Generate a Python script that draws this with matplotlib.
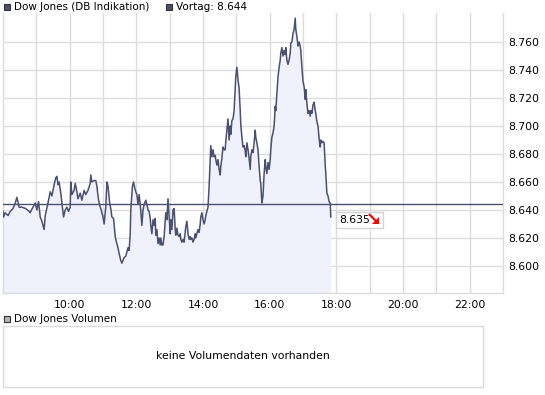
import matplotlib
matplotlib.use("Agg")
import matplotlib.pyplot as plt
from matplotlib.patches import Rectangle

# minutes after 08:00 and index level (DB Indikation)
minutes = [0, 1, 4, 9, 13, 18, 22, 25, 29, 34, 41, 47, 49, 50, 54, 58, 61, 64, 67, 70,
           74, 76, 81, 85, 88, 92, 95, 97, 99, 101, 104, 106, 109, 112, 115, 118, 121, 122, 124, 128,
           130, 133, 135, 139, 142, 146, 149, 153, 157, 158, 160, 164, 167, 169, 171, 173, 176, 180, 182, 185,
           187, 189, 192, 194, 196, 199, 202, 203, 207, 209, 212, 214, 218, 221, 225, 227, 229, 230, 233, 235,
           237, 239, 241, 243, 245, 247, 248, 250, 252, 254, 257, 259, 261, 263, 265, 266, 268, 270, 272, 274,
           275, 277, 279, 281, 283, 284, 286, 288, 290, 292, 293, 295, 297, 299, 301, 302, 304, 306, 308, 310,
           311, 313, 315, 317, 319, 320, 322, 324, 326, 328, 329, 331, 333, 335, 337, 338, 340, 342, 344, 346,
           347, 349, 351, 353, 355, 356, 358, 360, 362, 364, 365, 367, 369, 371, 373, 374, 376, 378, 380, 382,
           383, 385, 387, 389, 391, 392, 394, 396, 398, 400, 401, 403, 405, 407, 409, 410, 412, 414, 416, 418,
           419, 421, 423, 425, 427, 428, 430, 432, 434, 436, 437, 439, 441, 443, 445, 446, 448, 450, 452, 454,
           455, 457, 459, 461, 463, 464, 466, 468, 470, 472, 473, 475, 477, 479, 481, 482, 484, 486, 488, 490,
           491, 493, 495, 497, 499, 500, 502, 504, 506, 508, 509, 511, 513, 515, 517, 518, 520, 522, 524, 526,
           527, 529, 531, 533, 535, 536, 538, 540, 542, 544, 545, 547, 549, 551, 553, 554, 556, 558, 560, 562,
           563, 565, 567, 569, 571, 572, 574, 576, 578, 580, 581, 583, 585, 587, 589, 590]
level = [8639, 8635, 8638, 8636, 8639, 8641, 8645, 8649, 8642, 8642, 8641, 8639, 8638, 8639, 8642, 8645, 8640, 8646, 8635, 8632,
         8626, 8636, 8645, 8653, 8650, 8658, 8663, 8664, 8658, 8660, 8652, 8645, 8635, 8640, 8642, 8639, 8642, 8660, 8651, 8654,
         8659, 8653, 8648, 8652, 8647, 8654, 8651, 8654, 8659, 8665, 8660, 8661, 8661, 8657, 8650, 8645, 8641, 8635, 8630, 8642,
         8660, 8657, 8645, 8641, 8635, 8634, 8621, 8619, 8613, 8609, 8604, 8602, 8606, 8607, 8613, 8611, 8623, 8640, 8657, 8660,
         8656, 8653, 8651, 8644, 8651, 8644, 8639, 8629, 8640, 8644, 8647, 8644, 8640, 8639, 8634, 8629, 8623, 8633, 8629, 8634,
         8622, 8626, 8616, 8620, 8615, 8620, 8615, 8615, 8621, 8632, 8638, 8633, 8648, 8636, 8623, 8633, 8626, 8640, 8641, 8626,
         8622, 8627, 8622, 8621, 8623, 8619, 8617, 8619, 8617, 8624, 8628, 8632, 8623, 8619, 8621, 8619, 8620, 8617, 8619, 8623,
         8620, 8623, 8626, 8624, 8630, 8635, 8638, 8633, 8630, 8633, 8636, 8639, 8642, 8657, 8677, 8686, 8678, 8683, 8678, 8679,
         8676, 8672, 8676, 8669, 8665, 8671, 8677, 8685, 8683, 8683, 8689, 8697, 8705, 8690, 8700, 8694, 8704, 8705, 8711, 8727,
         8735, 8742, 8733, 8727, 8711, 8701, 8692, 8685, 8686, 8682, 8678, 8688, 8683, 8677, 8669, 8678, 8683, 8681, 8688, 8697,
         8692, 8688, 8683, 8671, 8661, 8659, 8645, 8650, 8666, 8676, 8671, 8666, 8674, 8669, 8676, 8683, 8692, 8695, 8700, 8714,
         8711, 8723, 8735, 8742, 8747, 8752, 8756, 8750, 8754, 8751, 8756, 8747, 8744, 8747, 8752, 8759, 8760, 8766, 8769, 8777,
         8769, 8764, 8757, 8760, 8757, 8754, 8742, 8732, 8728, 8719, 8726, 8716, 8709, 8711, 8707, 8711, 8709, 8715, 8717, 8711,
         8709, 8703, 8700, 8691, 8685, 8690, 8688, 8689, 8688, 8672, 8666, 8652, 8650, 8646, 8645, 8635]

prev_close = 8644
last_value = 8635
y_ticks = [8600, 8620, 8640, 8660, 8680, 8700, 8720, 8740, 8760]
x_tick_hours = [10, 12, 14, 16, 18, 20, 22]

line_col = '#4a5070'
fill_col = '#f1f1fc'
grid_col = '#dcdcdc'
plt.rcParams['font.family'] = ['DejaVu Sans']


def de_num(v):
    return f"{v:,.0f}".replace(',', '.')


W, H = 545, 395
fig = plt.figure(figsize=(W / 100, H / 100), dpi=100)
fig.patch.set_facecolor('white')


def fx(px):
    return px / W


def fy(py):
    return 1 - py / H


# main price panel
ax = fig.add_axes([fx(3), fy(293), fx(500), (293 - 13) / H])
t = [8 * 60 + m for m in minutes]
ax.fill_between(t, level, 8500, color=fill_col, lw=0, zorder=1)
ax.plot(t, level, color=line_col, lw=1.1, zorder=3)
ax.axhline(prev_close, color=line_col, lw=1.0, zorder=3)

ax.set_xlim(8 * 60, 23 * 60)
ax.set_ylim(8580.7, 8780.7)
ax.set_xticks([h * 60 for h in range(9, 23)])
ax.set_xticklabels([f"{h}:00" if h in x_tick_hours else '' for h in range(9, 23)])
ax.set_yticks(y_ticks)
ax.set_yticklabels([de_num(v) for v in y_ticks])
ax.yaxis.tick_right()
ax.tick_params(length=0, labelsize=7.8, colors='black', pad=4)
ax.tick_params(axis='x', pad=5)
ax.grid(True, color=grid_col, lw=1.0, zorder=0)
ax.set_axisbelow(True)
for side in ['left', 'right', 'bottom']:
    ax.spines[side].set_color(grid_col)
    ax.spines[side].set_linewidth(1.0)
ax.spines['top'].set_visible(False)

# last value box with red arrow
fig.patches.append(Rectangle((fx(336), fy(228)), fx(47), 16 / H, transform=fig.transFigure,
                             facecolor='white', edgecolor='#d4d4d4', lw=1.0, zorder=5))
fig.text(fx(339), fy(220), de_num(last_value), fontsize=7.8, va='center', ha='left', zorder=6)
fig.patches.append(plt.Polygon([[fx(369), fy(214)], [fx(377), fy(222)]], closed=False,
                               transform=fig.transFigure, color='red', lw=1.6, zorder=6))
fig.patches.append(plt.Polygon([[fx(379), fy(224)], [fx(372), fy(224)], [fx(379), fy(217)]],
                               closed=True, transform=fig.transFigure, color='red', lw=0, zorder=6))

# header legend
for sx, sy, col, label in [(4, 4, line_col, 'Dow Jones (DB Indikation)'),
                           (166, 4, line_col, 'Vortag: ' + de_num(prev_close)),
                           (4, 316, '#b4b4b4', 'Dow Jones Volumen')]:
    fig.patches.append(Rectangle((fx(sx), fy(sy + 6)), fx(6), 6 / H, transform=fig.transFigure,
                                 facecolor=col, edgecolor='#333333', lw=0.8))
    fig.text(fx(sx + 10), fy(sy + 3), label, fontsize=7.5, va='center', ha='left')

# volume panel
fig.patches.append(Rectangle((fx(3), fy(387)), fx(480), 61 / H, transform=fig.transFigure,
                             facecolor='white', edgecolor=grid_col, lw=1.0))
fig.text(fx(243), fy(356), 'keine Volumendaten vorhanden', fontsize=7.8, ha='center', va='center')

fig.savefig('out.png', dpi=100)
